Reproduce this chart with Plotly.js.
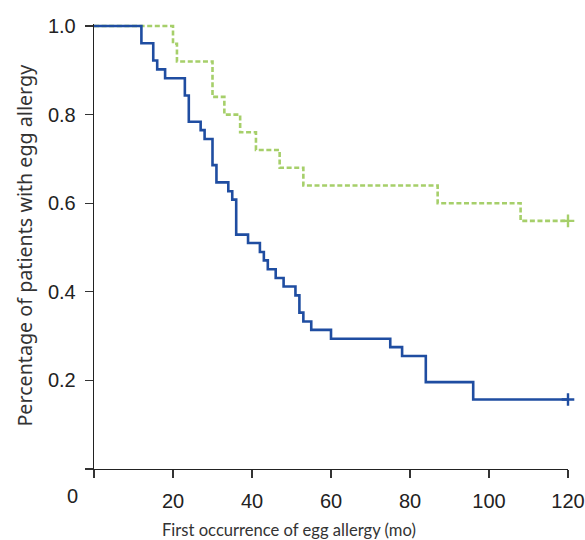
<!DOCTYPE html>
<html>
<head>
<meta charset="utf-8">
<script src="https://cdn.plot.ly/plotly-3.0.1.min.js"></script>
<style>html,body{margin:0;padding:0;background:#fff;}#chart{width:585px;height:540px;}</style>
</head>
<body>
<div id="chart"></div>
<script>
// Kaplan-Meier style step data
const blueMonths = [0, 12, 15, 16, 18, 23, 24, 27, 28, 30, 31, 34, 35, 36, 39, 42, 43, 44, 46, 48, 51, 52, 53, 55, 60, 75, 78, 84, 96, 120];
const blueValues = [1.0, 0.961, 0.922, 0.902, 0.882, 0.843, 0.784, 0.765, 0.745, 0.686, 0.647, 0.627, 0.608, 0.529, 0.510, 0.490, 0.471, 0.451, 0.431, 0.412, 0.392, 0.353, 0.333, 0.314, 0.294, 0.275, 0.255, 0.196, 0.157, 0.157];
const greenMonths = [0, 20, 21, 30, 33, 37, 41, 47, 53, 87, 108, 120];
const greenValues = [1.0, 0.96, 0.92, 0.84, 0.80, 0.76, 0.72, 0.68, 0.64, 0.60, 0.56, 0.56];
const xTickVals = [0, 20, 40, 60, 80, 100, 120];
const xTickText = ['', '20', '40', '60', '80', '100', '120'];
const yTickVals = [0, 0.2, 0.4, 0.6, 0.8, 1.0];
const yTickText = ['', '0.2', '0.4', '0.6', '0.8', '1.0'];
const xTitle = 'First occurrence of egg allergy (mo)';
const yTitle = 'Percentage of patients with egg allergy';
const originLabel = '0';

const blue = '#1f4da1';
const green = '#a6cf6a';
const tickFont = {family: 'Liberation Sans, Arial, sans-serif', size: 20, color: '#222'};

const traces = [
  {x: greenMonths, y: greenValues, type: 'scatter', mode: 'lines', line: {shape: 'hv', color: green, width: 2.6, dash: '5px,2.6px'}, hoverinfo: 'skip'},
  {x: blueMonths, y: blueValues, type: 'scatter', mode: 'lines', line: {shape: 'hv', color: blue, width: 2.6}, hoverinfo: 'skip'},
  {x: [greenMonths[greenMonths.length-1]], y: [greenValues[greenValues.length-1]], type: 'scatter', mode: 'markers', cliponaxis: false, marker: {symbol: 'cross-thin', size: 9, line: {color: green, width: 2.4}}},
  {x: [blueMonths[blueMonths.length-1]], y: [blueValues[blueValues.length-1]], type: 'scatter', mode: 'markers', cliponaxis: false, marker: {symbol: 'cross-thin', size: 9, line: {color: blue, width: 2.4}}}
];

const layout = {
  width: 585, height: 540,
  margin: {l: 94.3, r: 17.3, t: 24, b: 71, pad: 0},
  paper_bgcolor: '#fff', plot_bgcolor: '#fff',
  showlegend: false,
  xaxis: {
    range: [0, 120], showgrid: false, zeroline: false,
    showline: true, linecolor: '#222', linewidth: 1.3,
    ticks: 'outside', ticklen: 8, tickwidth: 1.3, tickcolor: '#333',
    tickvals: xTickVals, ticktext: xTickText, tickfont: tickFont,
    ticklabelstandoff: 6
  },
  yaxis: {
    range: [0, 1.0045], showgrid: false, zeroline: false,
    showline: true, linecolor: '#222', linewidth: 1.3,
    ticks: 'outside', ticklen: 8, tickwidth: 1.3, tickcolor: '#333',
    tickvals: yTickVals, ticktext: yTickText, tickfont: tickFont,
    ticklabelstandoff: 5
  },
  annotations: [
    {text: originLabel, xref: 'paper', yref: 'paper', x: (73 - 94.3) / 473.4, y: -(496 - 469) / 445, xanchor: 'center', yanchor: 'middle', showarrow: false, font: tickFont},
    {text: xTitle, xref: 'paper', yref: 'paper', x: (289 - 94.3) / 473.4, y: -(530 - 469) / 445, xanchor: 'center', yanchor: 'middle', showarrow: false, font: {family: 'Lato, Noto Sans, sans-serif', size: 16.6, color: '#333'}},
    {text: yTitle, xref: 'paper', yref: 'paper', x: (24 - 94.3) / 473.4, y: (469 - 245) / 445, xanchor: 'center', yanchor: 'middle', textangle: -90, showarrow: false, font: {family: 'Noto Sans, Open Sans, sans-serif', size: 19.7, color: '#333'}}
  ]
};

Plotly.newPlot('chart', traces, layout, {staticPlot: true, displayModeBar: false});
</script>
</body>
</html>
